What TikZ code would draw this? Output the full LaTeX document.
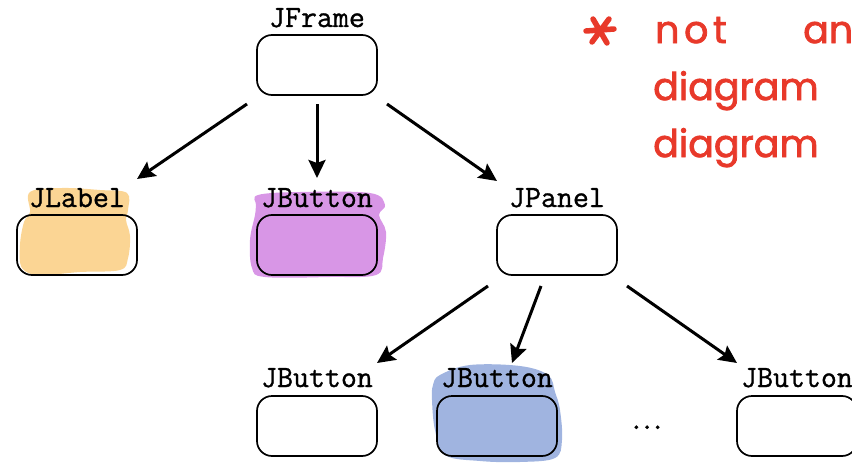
\documentclass[tikz,border=0pt]{standalone}
\usepackage{fontspec}
\usetikzlibrary{arrows.meta}
\setmonofont{Latin Modern Mono}[FakeBold=1]
\newfontfamily\hand[FakeBold=2]{Poppins}
\newfontfamily\handwide[FakeBold=2,LetterSpace=12]{Poppins}
\definecolor{inkred}{HTML}{E8392A}
\definecolor{hlorange}{HTML}{FBD594}
\definecolor{hlpurple}{HTML}{D896E6}
\definecolor{hlblue}{HTML}{A0B4E0}
\tikzset{
  box/.style={draw=black, line width=1.7pt, rounded corners=15pt,
    minimum width=120pt, minimum height=60pt, inner sep=0pt},
  cname/.style={anchor=base, inner sep=0pt,
    font=\fontsize{31}{33}\selectfont\ttfamily},
  arr/.style={line width=3pt, -{Stealth[length=18pt,width=17pt,inset=3pt]}},
  note/.style={anchor=base west, inner sep=0pt, text=inkred,
    font=\fontsize{38}{40}\selectfont\hand},
  blob/.style={smooth cycle, tension=0.6}
}
\begin{document}
\begin{tikzpicture}[x=1pt,y=-1pt]
\useasboundingbox (0,0) rectangle (852,463);
\clip (0,0) rectangle (852,463);

% marker highlights behind the classes
\fill[hlorange] plot[blob] coordinates {(30,192) (62,188) (100,190) (127,193) (128,210)
  (126,220) (130,236) (128,258) (120,270) (80,272) (40,275) (22,268) (20,245) (24,222) (30,212)};
\fill[hlpurple] plot[blob] coordinates {(258,195) (300,192) (370,193) (385,205) (379,215)
  (386,232) (383,258) (376,275) (330,277) (265,277) (252,268) (250,240) (255,215) (256,205)};
\fill[hlblue] plot[blob] coordinates {(440,375) (470,365) (520,366) (548,375) (555,392)
  (560,410) (562,440) (555,458) (520,462) (480,461) (445,455) (435,430) (432,400) (433,385)};

% containment tree
\node[box] (frame) at (317,65) {};
\node[cname] (frameL) at (317,27) {JFrame};

\node[box] (label) at (77,245) {};
\node[cname] (labelL) at (77,207) {JLabel};

\node[box] (button) at (317,245) {};
\node[cname] (buttonL) at (317,207) {JButton};

\node[box] (panel) at (557,245) {};
\node[cname] (panelL) at (557,207) {JPanel};

\node[box] (b1) at (317,426) {};
\node[cname] (b1L) at (317,387) {JButton};

\node[box] (b2) at (497,426) {};
\node[cname] (b2L) at (497,387) {JButton};

\node[box] (b3) at (797,426) {};
\node[cname] (b3L) at (797,387) {JButton};

\node[cname] (dots) at (647,429) {.\hspace{-5.3pt}.\hspace{-5.3pt}.};

\draw[arr] ([shift={(-70,39)}]frame.center) -- ([shift={(60,-28)}]labelL.base);
\draw[arr] ([shift={(0,39)}]frame.center) -- ([shift={(0,-29)}]buttonL.base);
\draw[arr] ([shift={(70,39)}]frame.center) -- ([shift={(-60,-26)}]panelL.base);
\draw[arr] ([shift={(-69,41)}]panel.center) -- ([shift={(60,-24)}]b1L.base);
\draw[arr] ([shift={(-16,41)}]panel.center) -- ([shift={(15,-24)}]b2L.base);
\draw[arr] ([shift={(70,41)}]panel.center) -- ([shift={(-60,-24)}]b3L.base);

% handwritten remark
\draw[inkred, line width=5.5pt, line cap=round]
  (586,31) -- (614,29) (593,19) -- (607,43) (609,19) -- (592,42);
\node[note, font=\fontsize{38}{40}\selectfont\handwide] (n1) at (655,43) {not};
\node[note] (n2) at (803,43) {an};
\node[note] (n3) at (653,100) {diagram};
\node[note] (n4) at (653,157) {diagram};
\end{tikzpicture}
\end{document}
